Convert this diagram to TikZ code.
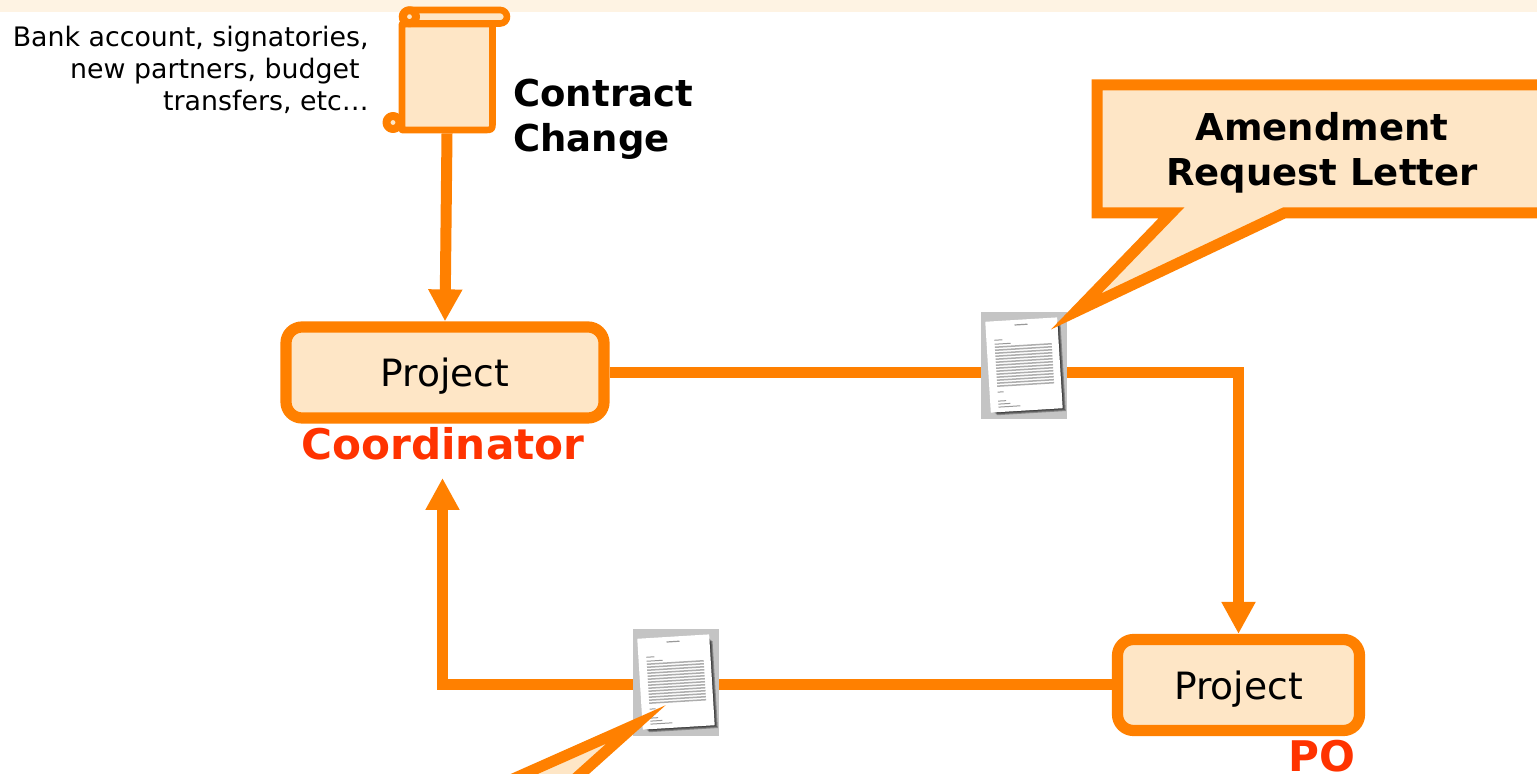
\documentclass[tikz,border=0pt]{standalone}
\usepackage{fontspec}
\setmainfont{DejaVu Sans}
\usetikzlibrary{arrows.meta}
\definecolor{flow}{HTML}{FF8000}
\definecolor{paper}{HTML}{FEE6C6}
\definecolor{strip}{HTML}{FEF3E3}
\definecolor{role}{HTML}{FF3300}
\definecolor{thumb}{HTML}{C4C4C4}
\tikzset{
  letter/.pic={
    \foreach \d in {0,1,2,3}
      \fill [black,opacity=.3] (-33+\d,-42+\d) rectangle (36+\d,45+\d);
    \fill [white] (-36,-46) rectangle (36,45);
    \draw [black!40,line width=.6pt] (-7,-41) -- (6,-41);
    \foreach \y in {-20,-17,...,20}
      \draw [black!32,line width=.75pt] (-28,\y) -- (29,\y);
    \draw [black!40,line width=.5pt] (-28,-27) -- (-20,-27);
    \draw [black!40,line width=.5pt] (-28,-23) -- (-12,-23);
    \draw [black!40,line width=.5pt] (-28,25) -- (-22,25);
    \draw [black!40,line width=.5pt] (-28,34) -- (-20,34);
    \draw [black!40,line width=.5pt] (-28,37) -- (-16,37);
    \draw [black!40,line width=.5pt] (-28,40) -- (-6,40);
  }
}
\begin{document}
\begin{tikzpicture}[x=.5pt,y=-.5pt,
    flowline/.style={draw=flow,line width=5.5pt},
    flowarrow/.style={flowline,-{Triangle[length=16pt,width=16pt]}},
    partybox/.style={draw=flow,fill=paper,line width=5.6pt,rounded corners=8pt,minimum height=45.5pt,text height=14pt,text depth=0pt,font=\fontsize{18.8}{22}\selectfont},
    rolelabel/.style={text=role,font=\bfseries\fontsize{21.1}{24}\selectfont,inner sep=0pt,anchor=base},
    heading/.style={font=\bfseries\fontsize{18.5}{22.5}\selectfont,inner sep=0pt},
    callout/.style={draw=flow,fill=paper,line width=5.5pt,miter limit=10},
    scrollpart/.style={draw=flow,fill=paper,line width=3.3pt,line join=round},
    scrollcurl/.style={scrollpart,line width=4pt},
    docthumb/.style={fill=thumb,minimum width=43pt,minimum height=53.5pt,inner sep=0pt,outer sep=0pt}]
  \useasboundingbox (0,0) rectangle (1537,774);
  \clip (0,0) rectangle (1537,774);
  \fill [strip] (0,0) rectangle (1537,12);

  \node (coord) [partybox,minimum width=159pt] at (445,372.5) {Project};
  \node (po) [partybox,minimum width=121pt] at (1238.5,685) {Project};
  \node (coordlabel) [rolelabel] at (443,460) {Coordinator};
  \node (polabel) [rolelabel] at (1322,771.5) {PO};
  \node (letterup) [docthumb] at (1024,365.5) {};
  \node (letterdown) [docthumb] at (676,682.5) {};
  \node (change) [inner sep=0pt,minimum width=45pt,minimum height=53.5pt] at (447,79.5) {};
  \coordinate (backin) at (442.5,478);
  \coordinate (turnup) at (1238.5,372.5);

  % connectors
  \draw [flowarrow] (change.south) -- (coord.north);
  \draw [flowline] (coord.east) -- (coord.east -| letterup.west);
  \draw [flowarrow] (coord.east -| letterup.east) -- (turnup) -- (po.north);
  \draw [flowline] (po.west) -- (po.west -| letterdown.east);
  \draw [flowarrow] (po.west -| letterdown.west) -| (backin);

  % letters
  \pic [rotate=3.5] at (letterup) {letter};
  \pic [rotate=3.5] at (letterdown) {letter};

  % callouts
  \draw [callout] (1097,85) -- (1570,85) -- (1570,212.8) -- (1284.5,212.8) -- (1076,311.5) -- (1171.5,212.8) -- (1097,212.8) -- cycle;
  \node (amendment) [heading,align=center] at (1322,153) {Amendment\\Request Letter};
  \draw [callout] (636,724.4) -- (465.6,800) -- (551.7,800) -- cycle;

  % scroll
  \path [scrollcurl] (393,122.5) circle [radius=6.5];
  \path [scrollpart] (402,24) -- (402,130) -- (484,130) .. controls (492.5,130) .. (492.5,122) -- (492.5,24) -- cycle;
  \path [scrollpart,rounded corners=3.4pt] (402,10) rectangle (507,23.5);
  \path [scrollcurl] (409.5,16.7) circle [radius=6.5];

  % texts
  \node (changelabel) [heading,align=left,anchor=west] at (513,119) {Contract\\Change};
  \node (changenote) [inner sep=0pt,align=right,anchor=east,font=\fontsize{13.4}{16}\selectfont] at (369,70) {Bank account, signatories,\\new partners, budget\kern4.5pt\\transfers, etc…};
\end{tikzpicture}
\end{document}
